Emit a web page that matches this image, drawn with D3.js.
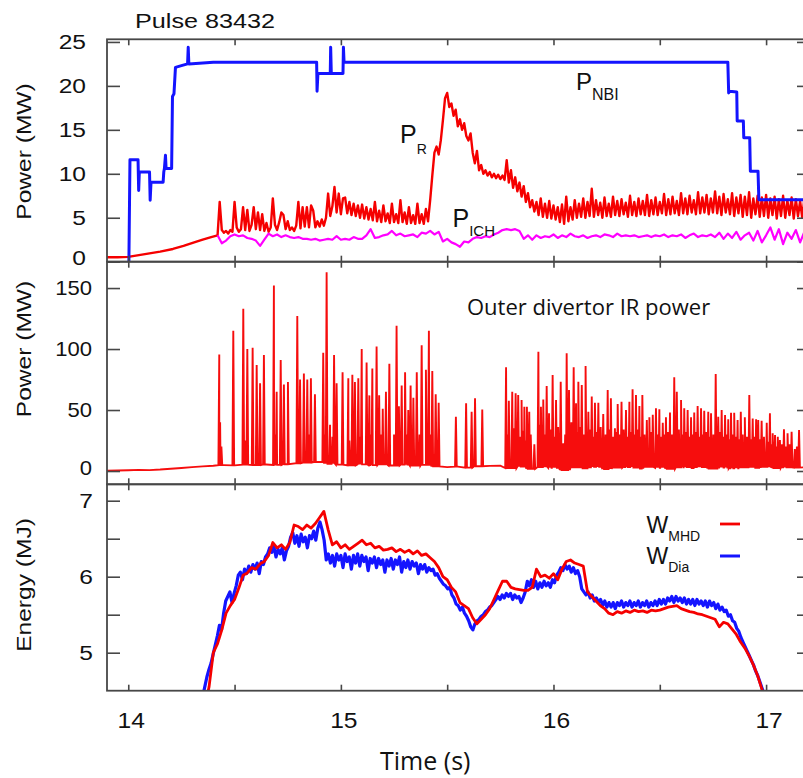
<!DOCTYPE html>
<html>
<head>
<meta charset="utf-8">
<script src="https://cdn.jsdelivr.net/npm/d3@7"></script>
<style>
  html, body { margin: 0; padding: 0; background: #fff; }
  svg { display: block; }
</style>
</head>
<body>
<svg id="chart" width="803" height="778"></svg>
<script>
// ---------------- data ----------------
const pulseTitle = "Pulse 83432";
const timeTickLabels = [14, 15, 16, 17];
const timeTicks = [14, 14.5, 15, 15.5, 16, 16.5, 17];

const powerTicks = [0, 5, 10, 15, 20, 25];
const irTicks = [0, 50, 100, 150];
const energyTicks = [5, 5.5, 6, 6.5, 7];
const energyTickLabels = [5, 6, 7];

// Neutral beam power (MW): [time s, value]
const pNBI = [
  [14.000, 0.0], [14.003, 0.0], [14.008, 11.6], [14.046, 11.6], [14.049, 8.1], [14.052, 10.2],
  [14.094, 10.2], [14.100, 10.2], [14.103, 7.0], [14.107, 9.05], [14.164, 9.05], [14.167, 10.2],
  [14.170, 10.6], [14.175, 12.1], [14.178, 10.6], [14.204, 10.6], [14.208, 18.8], [14.215, 19.1],
  [14.222, 22.1], [14.250, 22.3], [14.279, 22.5], [14.282, 24.4], [14.285, 22.5], [14.40, 22.7],
  [14.886, 22.7], [14.888, 19.4], [14.892, 21.4], [14.950, 21.4], [14.952, 24.4], [14.955, 21.4],
  [15.010, 21.4], [15.012, 24.4], [15.015, 22.7], [16.820, 22.7], [16.824, 19.2], [16.828, 19.4],
  [16.862, 19.3], [16.864, 16.0], [16.893, 16.0], [16.895, 14.1], [16.923, 14.1], [16.926, 10.3],
  [16.962, 10.3], [16.966, 7.06], [17.21, 7.06]
];

// Radiated power (MW): slow early rise as [time, value]
const pRadRise = [
  [13.90, 0.5], [13.95, 0.5], [14.00, 0.55], [14.05, 0.75], [14.10, 0.95], [14.15, 1.15],
  [14.21, 1.45], [14.26, 1.8], [14.31, 2.2], [14.35, 2.5], [14.39, 2.8], [14.42, 3.0]
];
// Radiated power (MW), sampled every 10 ms from 14.43 s to 17.19 s
const pRadStart = 14.43, pRadEnd = 17.19;
const pRad = [
  6.8,3.6,3.3,3.5,3.2,3.6,3.4,6.8,3.9,3.4, 3.7,6.2,3.6,5.9,3.5,4.2,6.2,3.7,5.6,3.6,
  5.4,3.5,4.4,3.4,3.9,7.2,4.2,3.6,4.5,5.6, 5.3,3.7,4.6,3.6,3.9,3.5,4.1,6.8,3.8,6.2,
  4.0,6.2,3.9,6.4,5.8,3.9,4.6,4.0,4.8,4.1, 5.0,7.75,5.2,6.3,8.5,5.6,7.75,5.4,7.2,7.3,
  5.5,6.8,5.3,6.6,5.2,6.4,5.0,6.5,4.9,6.2, 4.8,6.0,4.7,6.8,4.6,5.8,4.5,6.4,4.6,5.5,
  4.4,6.6,4.5,5.4,4.4,7.0,4.5,5.6,4.3,6.2, 4.4,5.3,4.3,6.6,4.4,5.4,4.3,6.0,4.6,7.0,
  9.8,12.4,13.1,12.2,13.8,16.1,18.6,19.2,17.6,18.0, 16.6,17.3,15.4,16.2,15.0,15.75,14.3,13.8,14.6,12.4,
  11.2,12.6,10.4,11.0,10.0,10.4,9.8,10.2,9.6,10.0, 9.5,9.9,9.4,9.8,9.3,11.55,9.0,10.4,8.4,9.6,
  8.0,9.0,7.4,8.6,6.8,7.8,6.2,7.0,5.7,6.8, 5.3,7.2,5.1,6.6,5.0,6.9,4.9,6.4,4.8,6.2,
  4.5,6.5,4.3,7.4,4.6,6.2,4.8,7.0,5.0,6.6, 5.1,7.2,5.0,6.8,5.2,8.3,5.1,7.0,5.3,6.7,
  5.0,7.3,5.2,6.6,5.1,7.4,5.3,6.9,5.2,7.1, 5.4,6.7,5.1,7.5,5.3,6.8,5.2,7.2,5.4,6.9,
  5.3,7.6,5.2,7.0,5.4,7.3,5.3,6.8,5.5,7.7, 5.3,7.1,5.4,7.4,5.5,6.9,5.3,7.8,5.5,7.2,
  5.4,7.5,5.6,7.0,5.4,7.9,5.5,7.3,5.6,7.6, 5.4,7.2,5.6,8.0,5.5,7.4,5.3,7.7,5.6,7.1,
  5.4,7.8,5.2,7.3,5.5,7.6,5.1,7.4,5.3,7.9, 5.0,7.2,5.4,7.5,5.1,7.3,5.2,7.6,5.0,7.2,
  5.3,7.4,4.9,7.1,5.2,7.5,5.0,7.0,5.3,7.3, 4.9,7.1,5.2,6.9,5.0,7.2,5.4
];

// ICRH power (MW), sampled every 20 ms from 14.42 s to 17.20 s
const pICHStart = 14.42, pICHEnd = 17.20;
const pICH = [
  3.0,2.1,2.4,2.9,3.1,2.9,3.0,2.7,2.6,2.4, 1.8,2.5,3.2,2.9,3.1,2.8,3.0,2.8,2.7,2.8,
  2.6,2.6,2.5,2.6,2.4,2.5,2.6,2.5,2.9,2.5, 2.6,2.5,2.8,2.6,2.6,3.0,3.7,2.7,2.8,3.0,
  3.1,3.5,3.0,3.2,2.9,3.0,3.1,2.8,3.3,3.2, 3.5,3.1,3.4,2.3,2.6,2.2,2.0,1.7,2.3,2.2,
  2.6,2.8,2.7,2.9,2.8,3.1,3.3,3.6,3.7,3.6, 3.7,3.5,2.6,3.0,2.5,3.0,2.7,2.9,2.8,3.1,
  2.7,3.0,2.8,3.2,2.9,2.8,3.0,2.7,2.9,3.0, 2.8,3.1,3.0,2.8,3.2,2.9,3.0,2.9,3.0,2.8,
  2.9,3.0,2.8,3.0,2.9,3.1,2.8,3.0,2.9,3.1, 2.7,3.0,3.2,2.8,3.0,2.9,3.1,2.8,3.3,2.6,
  3.2,2.7,3.4,2.5,3.0,3.3,2.4,3.5,2.2,3.0, 3.9,2.5,3.7,2.0,3.3,2.6,3.6,2.2,3.4,2.4
];

// Outer divertor IR power (MW): inter-ELM level every 50 ms from 13.90 s to 17.20 s
const irBaseStart = 13.90, irBaseEnd = 17.20;
const irBase = [
  0.3,0.4,0.6,0.9,0.7,1.2,1.9,2.5,3.2,3.8, 4.3,4.8,4.6,5.2,4.9,5.3,5.0,5.6,6.4,7.0,
  7.4,6.0,5.2,4.6,5.4,4.8,5.6,4.5,5.2,4.4, 5.0,3.8,3.2,3.6,2.8,3.9,4.2,4.4,2.4,3.6,
  1.8,3.2,2.6,0.8,3.0,2.2,3.4,1.6,2.8,3.2, 2.0,3.4,2.6,1.8,3.0,2.4,3.2,2.0,2.8,2.2,
  3.0,2.6,3.4,2.4,3.0,2.8,3.2
];
// ELM peaks of the outer divertor IR power: [time s, peak MW]
const irPeaks = [
  [14.428,95.6],[14.432,40],[14.494,115],[14.541,133],[14.560,100],[14.585,101],[14.604,87],
  [14.620,72],[14.638,95],[14.685,152],[14.698,65],[14.717,91],[14.732,71],[14.751,73],
  [14.795,127],[14.808,75],[14.826,80],[14.842,75],[14.859,76],[14.878,63],[14.917,97],
  [14.933,163],[14.949,38],[14.968,95],[14.980,72],[15.008,81],[15.035,76],[15.054,79],
  [15.066,73],[15.082,76],[15.098,100],[15.121,89],[15.134,62],[15.148,84],[15.168,102],
  [15.180,62],[15.197,51],[15.212,65],[15.228,88],[15.262,119],[15.273,53],[15.286,70],
  [15.302,81],[15.317,50],[15.328,70],[15.341,60],[15.357,81],[15.380,103],[15.400,83],
  [15.414,115],[15.430,82],[15.446,63],[15.460,56],[15.541,44.5],[15.589,55.5],[15.615,48.6],
  [15.631,59.6],[15.665,50.5],
  [15.777,85],[15.790,57.6],[15.806,65],[15.822,63.7],[15.834,62.3],[15.850,58.2],[15.863,52.7],
  [15.875,52.7],[15.886,48.6],[15.929,97.8],[15.941,52.7],[15.952,58.7],[15.968,69.7],
  [15.979,47.3],[15.996,78.7],[16.012,58.2],[16.034,73.2],[16.046,22.7],[16.062,96.5],
  [16.073,66.4],[16.095,85],[16.106,55.5],[16.117,73.2],[16.133,70.5],[16.151,86],[16.164,48.6],
  [16.180,61],[16.195,56],[16.211,56],[16.234,46.7],[16.255,66.4],[16.270,59.6],[16.289,35],
  [16.302,55],[16.320,56.8],[16.341,50],[16.357,56.8],[16.372,67],[16.388,62.3],[16.404,53.3],
  [16.418,62.3],[16.439,41.8],[16.451,44],[16.467,46.2],[16.482,51.4],[16.498,50.6],[16.514,39.6],
  [16.529,44],[16.548,48],[16.568,76.8],[16.580,65],[16.600,58.2],[16.615,51.4],[16.631,50],
  [16.647,44],[16.662,48],[16.678,53.3],[16.694,51.4],[16.709,49.4],[16.728,48.6],[16.741,47.3],
  [16.763,79.5],[16.775,44.5],[16.791,50],[16.807,46],[16.822,42.4],[16.835,47.8],[16.850,47.8],
  [16.866,41.8],[16.881,48.6],[16.900,44],[16.921,62.3],[16.937,43],[16.953,42.4],[16.963,41.8],
  [16.979,41.2],[17.003,39.6],[17.018,47.3],[17.031,30.9],[17.042,29.5],[17.055,28.1],[17.065,25.4],
  [17.084,34.2],[17.101,30.9],[17.120,32.2],[17.155,33.6]
];
// smaller ELM peaks between the large ones: [time s, peak MW]
const irMinorPeaks = [
  [14.438,20],[14.550,25],[14.690,30],[14.850,30],[14.925,30],[14.960,28],[15.040,25],[15.090,28],
  [15.140,30],[15.190,30],[15.250,30],[15.310,30],[15.370,30],[15.420,30],
  [15.783,30],[15.813,35],[15.842,28],[15.857,33],[15.869,25],[15.893,30],[15.910,22],[15.935,38],
  [15.960,30],[15.987,34],[16.004,28],[16.022,36],[16.055,30],[16.084,40],[16.111,32],[16.125,36],
  [16.142,30],[16.172,34],[16.188,28],[16.203,32],[16.222,36],[16.245,30],[16.262,34],[16.280,28],
  [16.296,32],[16.311,30],[16.330,34],[16.349,28],[16.364,32],[16.380,30],[16.396,34],[16.411,28],
  [16.428,30],[16.460,32],[16.490,30],[16.506,28],[16.522,30],[16.538,32],[16.557,30],[16.590,34],
  [16.608,30],[16.623,32],[16.639,28],[16.655,30],[16.670,32],[16.686,28],[16.702,30],[16.718,32],
  [16.734,28],[16.752,30],[16.783,32],[16.799,28],[16.815,30],[16.828,26],[16.843,30],[16.858,28],
  [16.873,26],[16.890,30],[16.910,28],[16.929,26],[16.945,28],[16.970,26],[16.990,28],[17.010,24],
  [17.025,22],[17.048,20],[17.075,22],[17.092,20],[17.110,22],[17.135,18],[17.145,20]
];

// Stored energy (MJ)
const wMHDStart = 14.36, wMHDEnd = 17.00;   // every 20 ms
const wMHD = [
  4.30,4.55,5.00,5.12,5.30,5.52,5.62,5.70,5.85,6.02, 6.05,6.12,6.10,6.17,6.20,6.28,6.45,6.38,6.42,6.36,
  6.45,6.68,6.66,6.62,6.68,6.64,6.70,6.78,6.86,6.62, 6.42,6.46,6.38,6.42,6.36,6.40,6.44,6.48,6.42,6.44,
  6.38,6.40,6.35,6.36,6.38,6.33,6.36,6.32,6.35,6.30, 6.34,6.28,6.30,6.25,6.20,6.12,6.00,5.96,5.86,5.80,
  5.66,5.62,5.58,5.46,5.38,5.44,5.50,5.58,5.70,5.82, 5.94,5.94,5.86,5.84,5.83,5.82,5.82,5.86,6.10,6.00,
  6.02,5.98,6.04,5.96,6.10,6.20,6.22,6.18,6.16,6.14, 5.80,5.74,5.68,5.62,5.58,5.52,5.50,5.54,5.52,5.55,
  5.53,5.56,5.54,5.55,5.53,5.56,5.55,5.56,5.58,5.60, 5.61,5.62,5.58,5.56,5.54,5.53,5.51,5.50,5.48,5.46,
  5.44,5.34,5.40,5.38,5.31,5.24,5.14,5.06,4.96,4.84, 4.70,4.52,4.30
];
const wDiaStart = 14.35, wDiaEnd = 16.99;   // every 10 ms
const wDia = [
  4.42,4.55,4.68,4.78,4.86,4.98,5.10,5.22,5.36,5.30, 5.52,5.68,5.74,5.80,5.66,5.78,5.88,6.02,6.06,5.96,
  6.10,6.04,6.14,6.06,6.16,6.10,6.18,6.04,6.20,6.16, 6.26,6.30,6.38,6.32,6.40,6.26,6.36,6.30,6.38,6.22,
  6.34,6.40,6.52,6.58,6.44,6.54,6.40,6.56,6.46,6.52, 6.38,6.54,6.50,6.60,6.48,6.64,6.72,6.62,6.48,6.22,
  6.30,6.18,6.28,6.14,6.30,6.22,6.28,6.12,6.30,6.20, 6.26,6.10,6.28,6.18,6.30,6.14,6.28,6.20,6.26,6.08,
  6.24,6.18,6.26,6.12,6.24,6.16,6.22,6.06,6.22,6.14, 6.24,6.10,6.22,6.16,6.26,6.06,6.20,6.12,6.22,6.10,
  6.20,6.14,6.18,6.04,6.16,6.10,6.16,6.06,6.12,6.08, 6.10,6.02,6.04,5.98,5.94,5.90,5.88,5.84,5.86,5.76,
  5.72,5.64,5.62,5.56,5.60,5.52,5.48,5.42,5.34,5.30, 5.38,5.42,5.44,5.48,5.50,5.54,5.56,5.60,5.62,5.66,
  5.70,5.74,5.70,5.76,5.72,5.78,5.74,5.78,5.70,5.76, 5.72,5.74,5.66,5.72,5.80,5.94,5.88,5.96,5.86,5.94,
  5.84,5.92,5.86,5.94,5.88,5.92,5.86,5.96,5.92,6.02, 6.06,6.12,6.08,6.16,6.10,6.14,6.06,6.12,6.04,6.08,
  6.00,5.84,5.80,5.76,5.80,5.72,5.76,5.68,5.72,5.66, 5.70,5.62,5.68,5.60,5.66,5.60,5.66,5.58,5.66,5.62,
  5.68,5.60,5.66,5.62,5.68,5.60,5.66,5.62,5.68,5.60, 5.66,5.62,5.68,5.60,5.66,5.62,5.68,5.62,5.70,5.64,
  5.70,5.64,5.72,5.68,5.74,5.66,5.74,5.68,5.72,5.66, 5.72,5.64,5.70,5.64,5.70,5.62,5.70,5.64,5.68,5.62,
  5.68,5.60,5.68,5.62,5.66,5.58,5.64,5.56,5.60,5.54, 5.56,5.48,5.50,5.42,5.40,5.32,5.28,5.20,5.14,5.08,
  5.02,4.96,4.90,4.84,4.76,4.70,4.62,4.54,4.46
];

// ---------------- drawing ----------------
const FONT = "'Liberation Sans', Arial, Helvetica, sans-serif";
const AXIS = "#474747";
const RED = "#f50000", BLUE = "#1414ff", MAGENTA = "#ff00ff";

const svg = d3.select("#chart");

const x = d3.scaleLinear().domain([13.9, 17.2065]).range([107, 810]);

const panels = {
  power:  { top: 39.3,  bottom: 261.7, y: d3.scaleLinear().domain([0, 25.3]).range([261.7, 39.3]) },
  ir:     { top: 261.7, bottom: 484.3, y: d3.scaleLinear().domain([-10.9, 171.6]).range([484.3, 261.7]) },
  energy: { top: 484.3, bottom: 690.7, y: d3.scaleLinear().domain([4.5, 7.216]).range([690.7, 484.3]) }
};

function sampled(start, end, values) {
  const step = (end - start) / (values.length - 1);
  return values.map((v, i) => [start + i * step, v]);
}

// stretched text helper (text runs wide, like the original plotting font)
function addText(g, opts) {
  const t = g.append("text")
    .attr("transform", `translate(${opts.x},${opts.y})` + (opts.rotate ? ` rotate(${opts.rotate})` : "") + ` scale(${opts.sx || 1},1)`)
    .attr("font-family", opts.family || FONT)
    .attr("font-size", opts.size)
    .attr("fill", "#111")
    .attr("text-anchor", opts.anchor || "start");
  if (opts.baseline) t.attr("dominant-baseline", opts.baseline);
  (opts.parts || [{ text: opts.text }]).forEach(p => {
    const s = t.append("tspan").text(p.text);
    if (p.size) s.attr("font-size", p.size);
    if (p.dx) s.attr("dx", p.dx);
    if (p.dy) s.attr("dy", p.dy);
  });
  return t;
}

// clip paths
const defs = svg.append("defs");
Object.entries(panels).forEach(([k, p]) => {
  defs.append("clipPath").attr("id", "clip-" + k)
    .append("rect").attr("x", 107).attr("y", p.top).attr("width", 810 - 107).attr("height", p.bottom - p.top);
});

const lineGen = (yScale) => d3.line().x(d => x(d[0])).y(d => yScale(d[1]));

// ---- top panel: heating and radiated power ----
{
  const p = panels.power;
  const g = svg.append("g").attr("clip-path", "url(#clip-power)");
  const radSeries = pRadRise.concat(sampled(pRadStart, pRadEnd, pRad));
  g.append("path").datum(radSeries).attr("d", lineGen(p.y))
    .attr("fill", "none").attr("stroke", RED).attr("stroke-width", 2.4).attr("stroke-linejoin", "round");
  g.append("path").datum(sampled(pICHStart, pICHEnd, pICH)).attr("d", lineGen(p.y))
    .attr("fill", "none").attr("stroke", MAGENTA).attr("stroke-width", 2.2).attr("stroke-linejoin", "round");
  g.append("path").datum(pNBI).attr("d", lineGen(p.y))
    .attr("fill", "none").attr("stroke", BLUE).attr("stroke-width", 3).attr("stroke-linejoin", "round");
}

// ---- middle panel: outer divertor IR power ----
{
  const p = panels.ir;
  const g = svg.append("g").attr("clip-path", "url(#clip-ir)");
  const base = sampled(irBaseStart, irBaseEnd, irBase);
  const step = (irBaseEnd - irBaseStart) / (irBase.length - 1);
  const footAt = t => irBase[Math.max(0, Math.min(irBase.length - 1, Math.round((t - irBaseStart) / step)))];
  const pts = base.slice();
  irPeaks.concat(irMinorPeaks).forEach(([t, v]) => {
    const f = footAt(t);
    pts.push([t - 0.004, f], [t, v], [t + 0.004, f]);
  });
  pts.sort((a, b) => a[0] - b[0]);
  g.append("path").datum(pts).attr("d", lineGen(p.y))
    .attr("fill", "none").attr("stroke", RED).attr("stroke-width", 1.9).attr("stroke-linejoin", "miter")
    .attr("stroke-opacity", 0.95);
}

// ---- bottom panel: stored energy ----
{
  const p = panels.energy;
  const g = svg.append("g").attr("clip-path", "url(#clip-energy)");
  g.append("path").datum(sampled(wDiaStart, wDiaEnd, wDia)).attr("d", lineGen(p.y))
    .attr("fill", "none").attr("stroke", BLUE).attr("stroke-width", 3.2).attr("stroke-linejoin", "round");
  g.append("path").datum(sampled(wMHDStart, wMHDEnd, wMHD)).attr("d", lineGen(p.y))
    .attr("fill", "none").attr("stroke", RED).attr("stroke-width", 2.8).attr("stroke-linejoin", "round");
}

// ---- frames and ticks ----
const frame = svg.append("g");
Object.values(panels).forEach(p => {
  frame.append("rect").attr("x", 107).attr("y", p.top).attr("width", 810 - 107).attr("height", p.bottom - p.top)
    .attr("fill", "none").attr("stroke", AXIS).attr("stroke-width", 1.8);
  // time ticks on top and bottom edges, pointing inward
  const xt = d3.axisBottom(x).tickValues(timeTicks).tickSize(-6).tickFormat("");
  frame.append("g").attr("transform", `translate(0,${p.bottom})`).call(xt);
  const xtTop = d3.axisTop(x).tickValues(timeTicks).tickSize(-6).tickFormat("");
  frame.append("g").attr("transform", `translate(0,${p.top})`).call(xtTop);
});

function yTicks(p, values) {
  frame.append("g").attr("transform", "translate(107,0)")
    .call(d3.axisLeft(p.y).tickValues(values).tickSize(-13).tickFormat(""));
  frame.append("g").attr("transform", "translate(810,0)")
    .call(d3.axisRight(p.y).tickValues(values).tickSize(-13).tickFormat(""));
}
yTicks(panels.power, powerTicks);
yTicks(panels.ir, irTicks);
yTicks(panels.energy, energyTicks);

frame.selectAll(".domain").remove();
frame.selectAll(".tick line").attr("stroke", AXIS).attr("stroke-width", 1.6);

// ---- tick labels ----
const labels = svg.append("g");
powerTicks.forEach(v => addText(labels, {
  x: 86, y: panels.power.y(v) - (v === 0 ? 4.5 : 0), text: String(v), size: 21, sx: 1.17,
  anchor: "end", baseline: "central"
}));
irTicks.forEach(v => addText(labels, {
  x: 92, y: panels.ir.y(v) - (v === 0 ? 3 : 0), text: String(v), size: 21, sx: 1.05,
  anchor: "end", baseline: "central"
}));
energyTickLabels.forEach(v => addText(labels, {
  x: 93, y: panels.energy.y(v), text: String(v), size: 21, sx: 1.17,
  anchor: "end", baseline: "central"
}));
timeTickLabels.forEach(v => addText(labels, {
  x: x(v) + 3, y: 728, text: String(v), size: 22, sx: 1.12, anchor: "middle"
}));

// ---- axis titles ----
addText(labels, { x: 31, y: (panels.power.top + panels.power.bottom) / 2 + 1, rotate: -90, text: "Power (MW)", size: 21, sx: 1.17, anchor: "middle" });
addText(labels, { x: 31, y: 349, rotate: -90, text: "Power (MW)", size: 21, sx: 1.17, anchor: "middle" });
addText(labels, { x: 31, y: 585, rotate: -90, text: "Energy (MJ)", size: 21, sx: 1.17, anchor: "middle" });
addText(labels, { x: 380, y: 770, text: "Time (s)", size: 25, family: "'Open Sans', sans-serif" });
addText(labels, { x: 135, y: 28, text: pulseTitle, size: 21, sx: 1.2 });

// ---- in-plot annotations ----
addText(labels, { x: 576, y: 90, size: 24, parts: [{ text: "P" }, { text: "NBI", size: 16, dy: 10 }] });
addText(labels, { x: 400, y: 143, size: 25, parts: [{ text: "P" }, { text: "R", size: 14, dy: 11 }] });
addText(labels, { x: 452.5, y: 227, size: 25, parts: [{ text: "P" }, { text: "ICH", size: 15, dy: 9 }] });
addText(labels, { x: 467, y: 315, text: "Outer divertor IR power", size: 22, family: "'Open Sans', sans-serif" });

// ---- legend ----
addText(labels, { x: 646.5, y: 533, size: 23, parts: [{ text: "W" }, { text: "MHD", size: 14, dy: 8 }] });
addText(labels, { x: 646.5, y: 564, size: 23, parts: [{ text: "W" }, { text: "Dia", size: 14, dy: 8 }] });
const legend = svg.append("g");
legend.append("line").attr("x1", 720).attr("x2", 740).attr("y1", 524).attr("y2", 524)
  .attr("stroke", RED).attr("stroke-width", 2.8);
legend.append("line").attr("x1", 720).attr("x2", 740).attr("y1", 556).attr("y2", 556)
  .attr("stroke", BLUE).attr("stroke-width", 3);
</script>
</body>
</html>
